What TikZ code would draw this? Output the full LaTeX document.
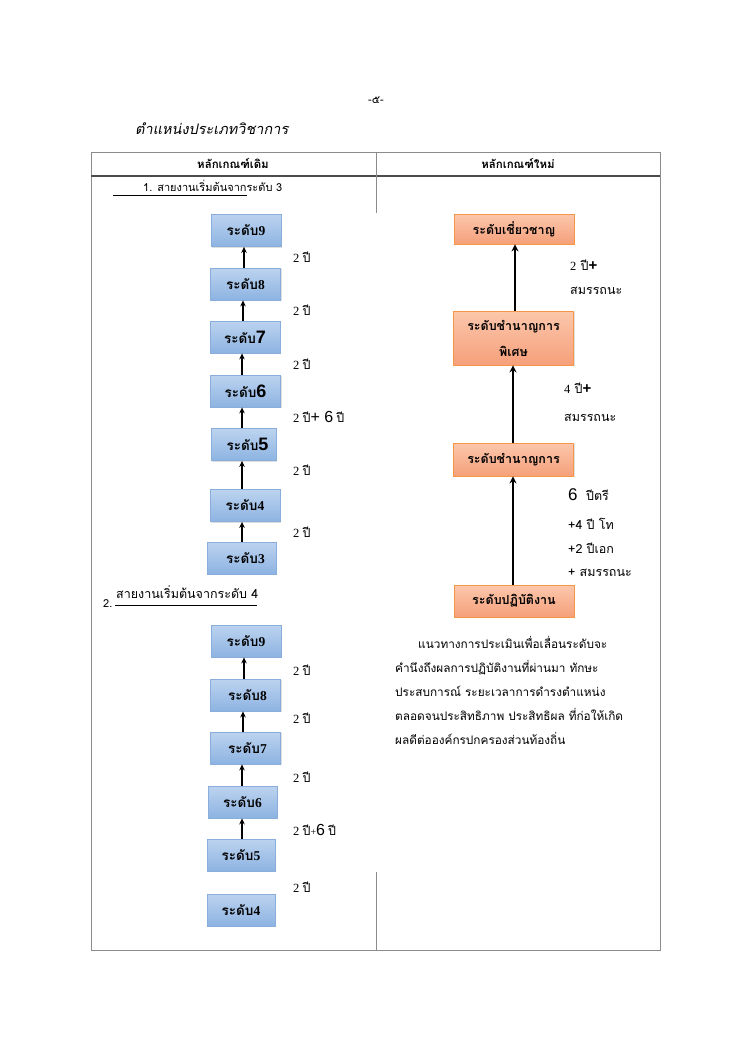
\documentclass[tikz,border=0pt]{standalone}
\usepackage{fontspec}
\setmainfont{Liberation Serif}
\newfontfamily\thf[Script=Thai,AutoFakeSlant=0.2]{Loma}
\newfontfamily\arf{Liberation Sans}
\usetikzlibrary{shadows,arrows.meta}
\newcommand\py{{\thf ปี}}
\definecolor{bluetop}{HTML}{BCD3EF}
\definecolor{bluebot}{HTML}{8DB3E2}
\definecolor{blueline}{HTML}{8AAEDC}
\definecolor{ortop}{HTML}{FCC7AC}
\definecolor{orbot}{HTML}{F5A07A}
\definecolor{orline}{HTML}{F79646}
\definecolor{tabline}{HTML}{8C8C8C}
\tikzset{
  bluebox/.style={draw=blueline, line width=0.8pt, top color=bluetop, bottom color=bluebot,
    minimum width=70pt, minimum height=32pt, inner sep=0pt,
    drop shadow={opacity=0.25, shadow xshift=1.2pt, shadow yshift=-1.2pt},
    font=\thf\fontsize{13.5}{15}\selectfont\bfseries},
  orbox/.style={draw=orline, line width=0.8pt, top color=ortop, bottom color=orbot,
    minimum width=120pt, minimum height=30pt, inner sep=0pt, align=center,
    drop shadow={opacity=0.25, shadow xshift=1.2pt, shadow yshift=-1.2pt},
    font=\thf\fontsize{12.5}{26}\selectfont\bfseries},
  larr/.style={line width=1.5pt, -{Stealth[length=6pt,width=5.5pt]}},
  rarr/.style={line width=2.3pt, -{Stealth[length=7pt,width=7pt]}},
  lbl/.style={anchor=west, inner sep=0pt, font=\fontsize{12.5}{14}\selectfont},
  rlbl/.style={anchor=west, inner sep=0pt, font=\thf\fontsize{12.5}{14}\selectfont},
  tab/.style={draw=tabline, line width=1pt},
}
\begin{document}
\begin{tikzpicture}[x=1pt,y=-1pt]
\useasboundingbox (0,0) rectangle (749,1060);
% page header
\node (pg) at (376,100) {\thf\fontsize{11}{13}\selectfont -๕-};
\node[anchor=west, inner sep=0pt] (title) at (135,129) {\thf\fontsize{14.5}{16}\selectfont\itshape ตำแหน่งประเภทวิชาการ};
% table
\coordinate (tl) at (91,152); \coordinate (tr) at (660,152);
\coordinate (bl) at (91,950); \coordinate (br) at (660,950);
\draw[tab] (tl) -- (tr) -- (br) -- (bl) -- cycle;
\draw[draw=black!70, line width=1.6pt] (91,176) -- (660,176);
\draw[tab] (376,152) -- (376,213);
\draw[tab] (376,872) -- (376,950);
\node (h1) at (233,163) {\thf\fontsize{11.5}{13}\selectfont\bfseries หลักเกณฑ์เดิม};
\node (h2) at (518,163) {\thf\fontsize{11.5}{13}\selectfont\bfseries หลักเกณฑ์ใหม่};
% section 1 heading
\node[anchor=west, inner sep=0pt] (s1) at (143,186) {\thf\fontsize{11}{13}\selectfont 1. สายงานเริ่มต้นจากระดับ 3};
\draw[line width=1pt] (113,195) -- (247,195);
% section 2 heading
\node[anchor=west, inner sep=0pt] (s2n) at (103,604) {\thf\fontsize{11}{13}\selectfont 2.};
\node[anchor=west, inner sep=0pt] (s2) at (116,592) {\thf\fontsize{12.5}{14}\selectfont สายงานเริ่มต้นจากระดับ 4};
\draw[line width=1pt] (115,605) -- (257,605);
% left chain 1
\node[bluebox] (a9) at (246,230.5) {ระดับ{\rmfamily 9}};
\node[bluebox] (a8) at (245.5,284) {ระดับ{\rmfamily 8}};
\node[bluebox] (a7) at (245,337) {ระดับ{\arf\fontsize{18}{18}\selectfont 7}};
\node[bluebox] (a6) at (245.5,391) {ระดับ{\arf\fontsize{18}{18}\selectfont 6}};
\node[bluebox, minimum width=65pt] (a5) at (243.5,444.5) {\hspace{8pt}ระดับ{\arf\fontsize{18}{18}\selectfont 5}};
\node[bluebox] (a4) at (245,505.5) {ระดับ{\rmfamily 4}};
\node[bluebox, minimum width=69pt] (a3) at (241.5,558) {\hspace{8pt}ระดับ{\rmfamily 3}};
\draw[larr] (a8.north -| 244,0) -- (a9.south -| 244,0);
\draw[larr] (a7.north -| 243,0) -- (a8.south -| 243,0);
\draw[larr] (a6.north -| 242,0) -- (a7.south -| 242,0);
\draw[larr] (a5.north -| 242,0) -- (a6.south -| 242,0);
\draw[larr] (a4.north -| 242,0) -- (a5.south -| 242,0);
\draw[larr] (a3.north -| 242,0) -- (a4.south -| 242,0);
\node[lbl] (l98) at (293,257) {2 \py};
\node[lbl] (l87) at (293,310) {2 \py};
\node[lbl] (l76) at (293,364) {2 \py};
\node[lbl] (l65) at (293,417) {2 \py{\arf\fontsize{16}{16}\selectfont + 6} \py};
\node[lbl] (l54) at (293,470) {2 \py};
\node[lbl] (l43) at (293,532) {2 \py};
% left chain 2
\node[bluebox] (b9) at (246,641) {ระดับ{\rmfamily 9}};
\node[bluebox] (b8) at (245.5,695) {\hspace{4pt}ระดับ{\rmfamily 8}};
\node[bluebox] (b7) at (245.5,748) {\hspace{4pt}ระดับ{\rmfamily 7}};
\node[bluebox, minimum width=69pt] (b6) at (242.5,802) {ระดับ{\rmfamily 6}};
\node[bluebox, minimum width=68pt] (b5) at (241,855) {ระดับ{\rmfamily 5}};
\node[bluebox, minimum width=68pt] (b4) at (241,910) {ระดับ{\rmfamily 4}};
\draw[larr] (b8.north -| 244,0) -- (b9.south -| 244,0);
\draw[larr] (b7.north -| 243,0) -- (b8.south -| 243,0);
\draw[larr] (b6.north -| 242,0) -- (b7.south -| 242,0);
\draw[larr] (b5.north -| 242,0) -- (b6.south -| 242,0);
\node[lbl] (m98) at (293,670) {2 \py};
\node[lbl] (m87) at (293,718) {2 \py};
\node[lbl] (m76) at (293,777) {2 \py};
\node[lbl] (m65) at (293,830) {2 \py{\fontsize{10}{10}\selectfont +}{\arf\fontsize{16}{16}\selectfont 6} \py};
\node[lbl] (m54) at (293,887) {2 \py};
% right chain
\node[orbox] (r1) at (514,229) {ระดับเชี่ยวชาญ};
\node[orbox, minimum height=54pt] (r2) at (513.5,338) {ระดับชำนาญการ\\พิเศษ};
\node[orbox, minimum height=33pt] (r3) at (513.5,459.5) {ระดับชำนาญการ};
\node[orbox, minimum height=32pt] (r4) at (514,601) {ระดับปฏิบัติงาน};
\draw[rarr] (r2.north -| 515,0) -- (r1.south -| 515,0);
\draw[rarr] (r3.north -| 513,0) -- (r2.south -| 513,0);
\draw[rarr] (r4.north -| 513,0) -- (r3.south -| 513,0);
\node[rlbl] (q1) at (570,265) {{\rmfamily 2} ปี{\arf\bfseries\fontsize{15}{15}\selectfont +}};
\node[rlbl] (q2) at (570,291) {สมรรถนะ};
\node[rlbl] (q3) at (564,388) {{\rmfamily 4} ปี{\arf\bfseries\fontsize{15}{15}\selectfont +}};
\node[rlbl] (q4) at (564,418) {สมรรถนะ};
\node[rlbl] (q5) at (568,495) {{\arf\fontsize{17}{17}\selectfont 6} \ ปีตรี};
\node[rlbl] (q6) at (568,524) {+4 ปี โท};
\node[rlbl] (q7) at (568,548) {+2 ปีเอก};
\node[rlbl] (q8) at (568,573) {+ สมรรถนะ};
% paragraph
\node[anchor=north west, inner sep=0pt, align=left, font=\thf\fontsize{11.8}{24}\selectfont] (para) at (395,636)
{\hspace*{23pt}แนวทางการประเมินเพื่อเลื่อนระดับจะ\\
คำนึงถึงผลการปฏิบัติงานที่ผ่านมา ทักษะ\\
ประสบการณ์ ระยะเวลาการดำรงตำแหน่ง\\
ตลอดจนประสิทธิภาพ ประสิทธิผล ที่ก่อให้เกิด\\
ผลดีต่อองค์กรปกครองส่วนท้องถิ่น};
\end{tikzpicture}
\end{document}
